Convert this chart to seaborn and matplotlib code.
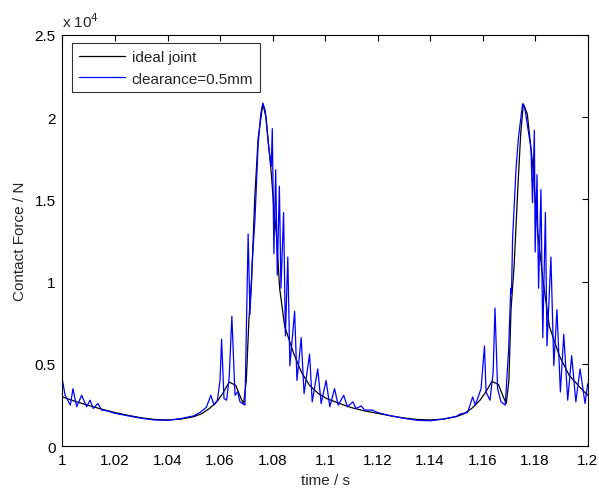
import numpy as np
import pandas as pd
import matplotlib
matplotlib.use("Agg")
import matplotlib.pyplot as plt
from matplotlib.ticker import FormatStrFormatter
import seaborn as sns

# ideal joint (force in units of 1e4 N)
t_ideal = [1.000, 1.005, 1.010, 1.015, 1.020, 1.025, 1.030, 1.035, 1.040, 1.045,
           1.050, 1.053, 1.056, 1.059, 1.061, 1.0635, 1.066, 1.068, 1.069, 1.0700,
           1.0710, 1.0720, 1.0732, 1.0745, 1.0763, 1.0775, 1.0795, 1.0805, 1.0815, 1.0827,
           1.0846, 1.0879, 1.0910, 1.0941, 1.0975, 1.1006, 1.1055, 1.110, 1.115, 1.120,
           1.125, 1.130, 1.135, 1.140, 1.145, 1.150, 1.153, 1.156, 1.159, 1.161,
           1.1636, 1.166, 1.168, 1.169, 1.170, 1.1708, 1.1720, 1.1735, 1.1745, 1.1755,
           1.1770, 1.1790, 1.1810, 1.1829, 1.1854, 1.1892, 1.1930, 1.1970, 1.2000]
f_ideal = [0.300, 0.272, 0.248, 0.225, 0.205, 0.188, 0.173, 0.163, 0.160, 0.165,
           0.180, 0.198, 0.230, 0.275, 0.320, 0.390, 0.370, 0.290, 0.260, 0.400,
           0.770, 1.000, 1.500, 1.870, 2.080, 2.000, 1.660, 1.450, 1.280, 0.960,
           0.730, 0.570, 0.450, 0.370, 0.320, 0.290, 0.260, 0.235, 0.215, 0.200,
           0.185, 0.172, 0.163, 0.160, 0.165, 0.180, 0.198, 0.232, 0.280, 0.325,
           0.395, 0.375, 0.295, 0.260, 0.400, 0.830, 1.100, 1.600, 1.900, 2.080,
           2.020, 1.720, 1.300, 1.020, 0.730, 0.550, 0.430, 0.360, 0.310]

# clearance = 0.5 mm
t_clear = [1.0000, 1.0010, 1.0030, 1.0040, 1.0054, 1.0073, 1.0092, 1.0105, 1.0117, 1.0135,
           1.0149, 1.0170, 1.0200, 1.0250, 1.0300, 1.0350, 1.0400, 1.0450, 1.0500, 1.0523,
           1.0548, 1.0565, 1.0577, 1.0590, 1.0600, 1.0606, 1.0615, 1.0625, 1.0635, 1.0645,
           1.0657, 1.0667, 1.0676, 1.0695, 1.0707, 1.0714, 1.0722, 1.0733, 1.0745, 1.0755,
           1.0763, 1.0772, 1.0785, 1.0795, 1.0799, 1.0805, 1.0812, 1.0818, 1.0826, 1.0832,
           1.0842, 1.0849, 1.0858, 1.0866, 1.0884, 1.0893, 1.0909, 1.0920, 1.0941, 1.0951,
           1.0972, 1.0985, 1.1004, 1.1018, 1.1036, 1.1050, 1.1071, 1.1085, 1.1106, 1.1118,
           1.1138, 1.1150, 1.1180, 1.1200, 1.1250, 1.1300, 1.1350, 1.1400, 1.1450, 1.1500,
           1.1514, 1.1543, 1.1562, 1.1572, 1.1594, 1.1607, 1.1613, 1.1628, 1.1640, 1.1647,
           1.1657, 1.1670, 1.1686, 1.1699, 1.1707, 1.1710, 1.1714, 1.1727, 1.1736, 1.1752,
           1.1760, 1.1784, 1.1790, 1.1797, 1.1800, 1.1807, 1.1813, 1.1822, 1.1829, 1.1839,
           1.1845, 1.1860, 1.1871, 1.1883, 1.1896, 1.1909, 1.1924, 1.1939, 1.1955, 1.1971,
           1.1990, 1.2000]
f_clear = [0.400, 0.310, 0.250, 0.350, 0.240, 0.310, 0.240, 0.280, 0.230, 0.260,
           0.220, 0.215, 0.200, 0.185, 0.170, 0.160, 0.158, 0.168, 0.185, 0.205,
           0.237, 0.310, 0.250, 0.280, 0.400, 0.650, 0.290, 0.280, 0.420, 0.790,
           0.310, 0.330, 0.270, 0.250, 1.290, 0.800, 1.100, 1.380, 1.830, 2.020,
           2.085, 2.040, 1.820, 1.700, 1.930, 1.170, 1.680, 1.040, 1.580, 0.960,
           1.420, 0.670, 1.150, 0.490, 0.820, 0.400, 0.660, 0.320, 0.560, 0.270,
           0.470, 0.260, 0.400, 0.240, 0.350, 0.250, 0.310, 0.240, 0.270, 0.230,
           0.245, 0.220, 0.220, 0.205, 0.185, 0.170, 0.158, 0.155, 0.165, 0.182,
           0.196, 0.206, 0.300, 0.250, 0.350, 0.610, 0.330, 0.280, 0.450, 0.840,
           0.350, 0.270, 0.250, 0.590, 0.960, 0.930, 1.260, 1.680, 1.870, 2.080,
           2.060, 1.810, 1.480, 1.920, 1.180, 1.650, 0.960, 1.560, 0.660, 1.420,
           0.610, 1.150, 0.490, 0.830, 0.330, 0.680, 0.280, 0.550, 0.270, 0.470,
           0.260, 0.380]

x_ticks = [1.0, 1.02, 1.04, 1.06, 1.08, 1.1, 1.12, 1.14, 1.16, 1.18, 1.2]
y_ticks = [0, 0.5, 1, 1.5, 2, 2.5]

df = pd.concat([
    pd.DataFrame({'t': t_ideal, 'F': f_ideal, 'case': 'ideal joint'}),
    pd.DataFrame({'t': t_clear, 'F': f_clear, 'case': 'clearance=0.5mm'}),
])

sns.set_style("white")
plt.rcParams['font.family'] = ['Liberation Sans', 'DejaVu Sans']
fs = 11

fig = plt.figure(figsize=(5.99, 4.89), dpi=100)
ax = fig.add_axes([0.1043, 0.0853, 0.8768, 0.8415])

sns.lineplot(data=df, x='t', y='F', hue='case', estimator=None, sort=False,
             palette={'ideal joint': 'black', 'clearance=0.5mm': '#0000ff'},
             linewidth=0.9, ax=ax)

ax.set_xlim(1.0, 1.2)
ax.set_ylim(0, 2.5)
ax.set_xticks(x_ticks)
ax.set_yticks(y_ticks)
ax.xaxis.set_major_formatter(FormatStrFormatter('%g'))
ax.yaxis.set_major_formatter(FormatStrFormatter('%g'))
ax.tick_params(direction='in', length=4, width=0.8, top=True, right=True,
               labelsize=fs, colors='black', pad=5)
for s in ax.spines.values():
    s.set_color('black')
    s.set_linewidth(0.8)

ax.set_xlabel('time / s', fontsize=fs)
ax.set_ylabel('Contact Force / N', fontsize=fs)
ax.xaxis.set_label_coords(0.5, -0.065)
ax.yaxis.set_label_coords(-0.068, 0.5)
ax.text(0.0, 1.012, r'x 10$^{4}$', transform=ax.transAxes, fontsize=fs,
        ha='left', va='bottom')

leg = ax.legend(loc='upper left', bbox_to_anchor=(0.018, 0.98), borderaxespad=0,
                fontsize=fs, frameon=True, fancybox=False, handlelength=3.0,
                handletextpad=0.45, borderpad=0.45, labelspacing=0.5, title=None)
leg.get_frame().set_edgecolor('black')
leg.get_frame().set_linewidth(0.8)

fig.savefig('out.png', dpi=100)
